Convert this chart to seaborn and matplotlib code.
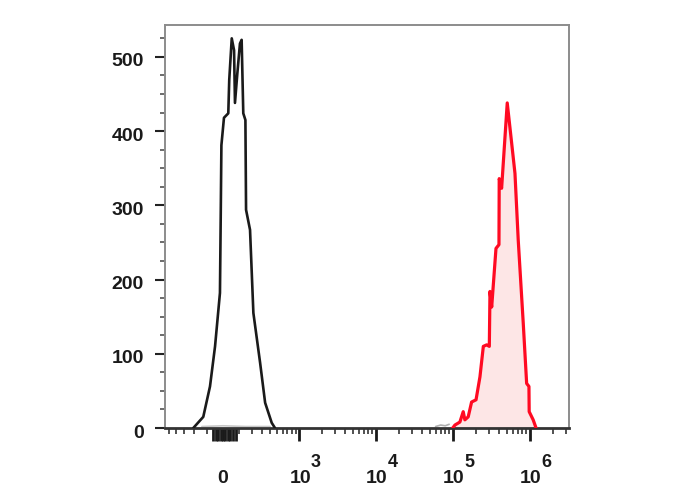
import numpy as np
import pandas as pd
import matplotlib
matplotlib.use("Agg")
import matplotlib.pyplot as plt
import matplotlib.transforms as mtransforms
import seaborn as sns

# ---- data ----
black_x = [-210, -130, -83, -50, -19, -14, -10, 6, 33, 39, 55, 70, 76, 92, 110, 122,
           134, 150, 155, 187, 216, 281, 337, 422, 470]
black_y = [0, 15, 56, 110, 182, 290, 381, 418, 424, 469, 525, 509, 438, 478, 518, 523,
           424, 415, 294, 267, 155, 88, 34, 7, 0]

red_x = [1.0e5, 1.07e5, 1.24e5, 1.37e5, 1.44e5, 1.59e5, 1.76e5, 2.01e5, 2.26e5, 2.50e5,
         2.76e5, 2.99e5, 3.05e5, 3.21e5, 3.65e5, 3.99e5, 4.02e5, 4.32e5, 5.11e5, 5.83e5,
         6.44e5, 7.10e5, 8.25e5, 9.13e5, 9.78e5, 9.85e5, 1.11e6, 1.21e6]
red_y = [0, 4, 8, 22, 11, 15, 35, 38, 69, 110, 112, 110, 184, 163, 242, 247, 336, 323,
         438, 384, 343, 253, 141, 60, 56, 22, 11, 0]

gray_x = [-140, 0, 150, 400, 6.0e4, 7.0e4, 8.0e4, 9.0e4]
gray_y = [2, 3, 2, 2, 2, 4, 3, 5]

x_label_pos = [0, 1e3, 1e4, 1e5, 1e6]
x_label_base = ["0", "10", "10", "10", "10"]
x_label_exp = ["", "3", "4", "5", "6"]
y_major = [0, 100, 200, 300, 400, 500]

# ---- style ----
sns.set_theme(style="white")
plt.rcParams["font.family"] = ["Liberation Sans", "DejaVu Sans"]

C = 208.0
def fwd(x):
    return np.arcsinh(np.asarray(x, dtype=float) / C) / np.log(10)
def inv(t):
    return C * np.sinh(np.asarray(t, dtype=float) * np.log(10))

fig = plt.figure(figsize=(6.88, 4.90), dpi=100)
ax = fig.add_axes([165 / 688, 62 / 490, 404 / 688, 403 / 490])
ax.set_xscale("function", functions=(fwd, inv))

dfb = pd.DataFrame({"x": black_x, "y": black_y})
dfr = pd.DataFrame({"x": red_x, "y": red_y})
dfg = pd.DataFrame({"x": gray_x[:4], "y": gray_y[:4]})
dfg2 = pd.DataFrame({"x": gray_x[4:], "y": gray_y[4:]})

sns.lineplot(data=dfg, x="x", y="y", ax=ax, color="#c8c8c8", lw=1.2, sort=False, estimator=None)
sns.lineplot(data=dfg2, x="x", y="y", ax=ax, color="#b0b0b0", lw=1.2, sort=False, estimator=None)
ax.fill_between(red_x, red_y, 0, color="#fde6e6", lw=0, zorder=1)
sns.lineplot(data=dfr, x="x", y="y", ax=ax, color="#ff0a22", lw=2.3, sort=False, estimator=None, zorder=3)
sns.lineplot(data=dfb, x="x", y="y", ax=ax, color="#1a1a1a", lw=1.9, sort=False, estimator=None, zorder=3)

ax.set_xlim(-571, 3.24e6)
ax.set_ylim(0, 543)
ax.set_xlabel("")
ax.set_ylabel("")

# x ticks (labels drawn as text below)
major = [-60, -45, -30, -15, 0, 15, 30, 45, 60, 80, 1e3, 1e4, 1e5, 1e6]
ax.set_xticks(major)
ax.set_xticklabels([""] * len(major))
minor = [-500, -400, -300, -200, -100]
minor += list(range(100, 1000, 100))
for dec in [1e3, 1e4, 1e5]:
    minor += [k * dec for k in range(2, 10)]
minor += [2e6, 3e6]
ax.set_xticks(minor, minor=True)

ax.set_yticks(y_major)
ax.set_yticks(np.arange(0, 543, 25), minor=True)

ax.tick_params(axis="x", which="major", direction="out", length=9.0, width=2.0,
               color="#1a1a1a", bottom=True)
ax.tick_params(axis="x", which="minor", direction="out", length=4.3, width=1.2,
               color="#333333", bottom=True)
ax.tick_params(axis="y", which="major", direction="out", length=7.2, width=1.5,
               color="#222222", labelsize=14, labelcolor="#1a1a1a", pad=8.0, left=True)
ax.tick_params(axis="y", which="minor", direction="out", length=3.6, width=1.1,
               color="#444444", left=True)
shift = mtransforms.ScaledTranslation(0, -3 / 100, fig.dpi_scale_trans)
for lab in ax.get_yticklabels():
    lab.set_fontweight("bold")
    lab.set_transform(lab.get_transform() + shift)

trans = ax.get_xaxis_transform()
for pos, base, ex in zip(x_label_pos, x_label_base, x_label_exp):
    if ex == "":
        ax.annotate(base, xy=(pos, 0), xycoords=trans, xytext=(0, -55),
                    textcoords="offset pixels", ha="center", va="baseline",
                    fontsize=14, fontweight="bold", color="#1a1a1a")
    else:
        ax.annotate(base, xy=(pos, 0), xycoords=trans, xytext=(12, -55),
                    textcoords="offset pixels", ha="right", va="baseline",
                    fontsize=14, fontweight="bold", color="#1a1a1a")
        ax.annotate(ex, xy=(pos, 0), xycoords=trans, xytext=(12, -39),
                    textcoords="offset pixels", ha="left", va="baseline",
                    fontsize=13, fontweight="bold", color="#1a1a1a")

for s in ["top", "right", "left"]:
    ax.spines[s].set_color("#8c8c8c")
    ax.spines[s].set_linewidth(1.4)
ax.spines["bottom"].set_color("#333333")
ax.spines["bottom"].set_linewidth(2.0)

fig.savefig("out.png", dpi=100)
